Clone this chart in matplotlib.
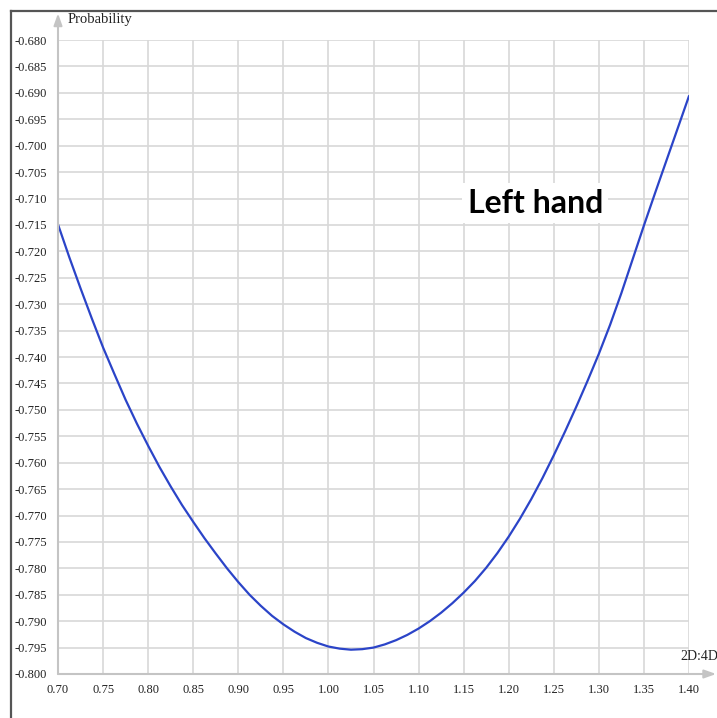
import matplotlib
matplotlib.use("Agg")
import matplotlib.pyplot as plt
from matplotlib.lines import Line2D

# Data
ratio = [0.7000, 0.7125, 0.7250, 0.7375, 0.7500, 0.7625, 0.7750, 0.7875, 0.8000, 0.8125,
         0.8250, 0.8375, 0.8500, 0.8625, 0.8750, 0.8875, 0.9000, 0.9125, 0.9250, 0.9375,
         0.9500, 0.9625, 0.9750, 0.9875, 1.0000, 1.0125, 1.0250, 1.0375, 1.0500, 1.0625,
         1.0750, 1.0875, 1.1000, 1.1125, 1.1250, 1.1375, 1.1500, 1.1625, 1.1750, 1.1875,
         1.2000, 1.2125, 1.2250, 1.2375, 1.2500, 1.2625, 1.2750, 1.2875, 1.3000, 1.3125,
         1.3250, 1.3375, 1.3500, 1.3625, 1.3750, 1.3875, 1.4000]
probability = [-0.7149, -0.7211, -0.7270, -0.7327, -0.7382, -0.7432, -0.7481, -0.7526, -0.7568, -0.7608,
               -0.7645, -0.7680, -0.7712, -0.7743, -0.7772, -0.7800, -0.7826, -0.7850, -0.7871, -0.7890,
               -0.7906, -0.7920, -0.7932, -0.7941, -0.7948, -0.7952, -0.7954, -0.7953, -0.7950, -0.7944,
               -0.7936, -0.7926, -0.7914, -0.7900, -0.7884, -0.7866, -0.7846, -0.7824, -0.7799, -0.7771,
               -0.7740, -0.7706, -0.7669, -0.7629, -0.7586, -0.7541, -0.7494, -0.7445, -0.7394, -0.7339,
               -0.7279, -0.7215, -0.7151, -0.7089, -0.7028, -0.6967, -0.6906]
x_ticks = [0.70, 0.75, 0.80, 0.85, 0.90, 0.95, 1.00, 1.05, 1.10, 1.15, 1.20, 1.25, 1.30, 1.35, 1.40]
y_ticks = [-0.800, -0.795, -0.790, -0.785, -0.780, -0.775, -0.770, -0.765, -0.760, -0.755,
           -0.750, -0.745, -0.740, -0.735, -0.730, -0.725, -0.720, -0.715, -0.710, -0.705,
           -0.700, -0.695, -0.690, -0.685, -0.680]
y_title = "Probability"
x_title = "2D:4D"
annotation = "Left hand"

W, H = 717, 718
fig = plt.figure(figsize=(W / 100, H / 100), dpi=100)
fig.patch.set_facecolor("white")
ax = fig.add_axes([58 / W, 1 - 674 / H, (689 - 58) / W, (674 - 40) / H])

ax.plot(ratio, probability, color="#2b44c8", lw=1.6, zorder=3,
        solid_capstyle="round", solid_joinstyle="round")

ax.set_xlim(0.70, 1.40)
ax.set_ylim(-0.800, -0.680)
ax.set_xticks(x_ticks)
ax.set_yticks(y_ticks)
ax.set_xticklabels([f"{v:.2f}" for v in x_ticks])
ax.set_yticklabels([f"{v:.3f}" for v in y_ticks])
serif = "Liberation Serif"
for lab in ax.get_xticklabels() + ax.get_yticklabels():
    lab.set_fontfamily(serif)
    lab.set_fontsize(9)
    lab.set_color("#222222")
ax.tick_params(axis="both", length=0)
ax.tick_params(axis="y", pad=8)
ax.tick_params(axis="x", pad=7)

ax.grid(True, color="#d8d8d8", lw=1.2, zorder=0)
ax.set_axisbelow(True)
for s in ax.spines.values():
    s.set_visible(False)

# axis lines with arrows
ax.annotate("", xy=(0, 1.042), xytext=(0, 0), xycoords="axes fraction",
            textcoords="axes fraction",
            arrowprops=dict(arrowstyle="-|>,head_length=0.7,head_width=0.25",
                            color="#c4c4c4", lw=1.5, shrinkA=0, shrinkB=0),
            annotation_clip=False)
ax.annotate("", xy=(1.043, 0), xytext=(0, 0), xycoords="axes fraction",
            textcoords="axes fraction",
            arrowprops=dict(arrowstyle="-|>,head_length=0.7,head_width=0.25",
                            color="#c4c4c4", lw=1.5, shrinkA=0, shrinkB=0),
            annotation_clip=False)

ax.text(0.016, 1.032, y_title, transform=ax.transAxes, fontfamily=serif,
        fontsize=10.5, ha="left", va="center", color="#222222", clip_on=False)
ax.text(0.986, 0.028, x_title, transform=ax.transAxes, fontfamily=serif,
        fontsize=10, ha="left", va="center", color="#222222", clip_on=False)

ax.text(1.2295, -0.7109, annotation, fontfamily="Lato", fontweight="bold",
        fontsize=23, ha="center", va="center", color="black", zorder=4,
        bbox=dict(facecolor="white", edgecolor="none", pad=4))

# outer frame (top and left)
fig.add_artist(Line2D([11 / W, 11 / W], [0, 1 - 11 / H], color="#555555", lw=1.6,
                      transform=fig.transFigure))
fig.add_artist(Line2D([11 / W, 1], [1 - 11 / H, 1 - 11 / H], color="#555555", lw=1.6,
                      transform=fig.transFigure))

fig.savefig("out.png", dpi=100)
